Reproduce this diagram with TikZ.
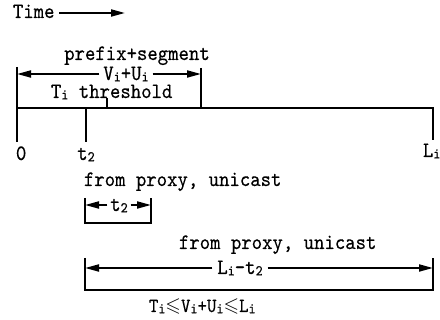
\documentclass[tikz,border=0pt]{standalone}
\usepackage{amssymb}
\usepackage{fontspec}
\newfontfamily\monof{lmmono10-regular.otf}[FakeStretch=0.9,FakeBold=0.35]
\usetikzlibrary{arrows.meta}
% small lowered index letters (V_i, t_2, ...)
\newcommand{\idx}[1]{\raisebox{-0.15ex}{\fontsize{15}{15}\selectfont #1}}
\newcommand{\leqs}{\ensuremath{\leqslant}}
\begin{document}
\begin{tikzpicture}[x=1pt,y=-1pt,line width=1.9pt,
  lbl/.style={font=\monof\fontsize{22}{22}\selectfont,inner sep=0pt},
  small/.style={font=\monof\fontsize{20}{20}\selectfont,inner sep=0pt},
  tip/.style={-{Triangle[length=14pt,width=7pt]}}]
\useasboundingbox (0,0) rectangle (440,320);

% time direction
\node[lbl,anchor=base west] (time) at (12,18) {Time};
\coordinate (ta) at (59,13);
\coordinate (tb) at (125,13);
\draw[tip] (ta) -- (tb);

% main time axis with ticks
\coordinate (oTop) at (17,67);
\coordinate (o) at (17,108);
\coordinate (oBot) at (17,142);
\coordinate (L) at (433,108);
\coordinate (LBot) at (433,140);
\coordinate (vuTop) at (201,68);
\coordinate (vu) at (201,108);
\coordinate (thrTop) at (107,98);
\coordinate (thr) at (107,108);
\coordinate (t2) at (86,108);
\coordinate (t2Bot) at (86,142);
\draw (oTop) -- (oBot);
\draw (o) -- (L) -- (LBot);
\draw (vuTop) -- (vu);
\draw (thrTop) -- (thr);
\draw (t2) -- (t2Bot);

% prefix + segment span
\node[lbl,anchor=base] (pfx) at (137,60) {prefix+segment};
\coordinate (vuL) at (17,74);
\coordinate (vuR) at (201,74);
\node[lbl,fill=white,inner xsep=3pt,anchor=base] (vulbl) at (126,80) {V\idx{i}+U\idx{i}};
\draw[tip] (vulbl.west |- vuL) -- (vuL);
\draw[tip] (vulbl.east |- vuR) -- (vuR);
\node[lbl,anchor=base west] (thrlbl) at (50,98) {T\idx{i} threshold};

% axis labels
\node[lbl,anchor=base west] (zero) at (15,160) {0};
\node[lbl,anchor=base] (t2lbl) at (86,160) {t\idx{2}};
\node[lbl,anchor=base west] (Llbl) at (422,157) {L\idx{i}};

% first unicast span: 0 .. t2
\node[lbl,anchor=base west] (uc1) at (83,186) {from proxy, unicast};
\coordinate (a1) at (85,198);
\coordinate (a2) at (85,223);
\coordinate (a3) at (151,223);
\coordinate (a4) at (151,198);
\draw (a1) -- (a2) -- (a3) -- (a4);
\coordinate (aL) at (85,205);
\coordinate (aR) at (151,205);
\node[lbl,fill=white,inner xsep=2pt,anchor=base] (alb) at (119,211) {t\idx{2}};
\draw[tip] (alb.west |- aL) -- (aL);
\draw[tip] (alb.east |- aR) -- (aR);

% second unicast span: t2 .. Li
\node[lbl,anchor=base west] (uc2) at (178,249) {from proxy, unicast};
\coordinate (b1) at (85,258);
\coordinate (b2) at (85,290);
\coordinate (b3) at (433,290);
\coordinate (b4) at (433,258);
\draw (b1) -- (b2) -- (b3) -- (b4);
\coordinate (bL) at (85,268);
\coordinate (bR) at (433,268);
\node[lbl,fill=white,inner xsep=4pt,anchor=base] (blb) at (240,274) {L\idx{i}-t\idx{2}};
\draw[tip] (blb.west |- bL) -- (bL);
\draw[tip] (blb.east |- bR) -- (bR);

% constraint
\node[small,anchor=base west] (cons) at (148,312) {T\idx{i}\leqs V\idx{i}+U\idx{i}\leqs L\idx{i}};
\end{tikzpicture}
\end{document}
